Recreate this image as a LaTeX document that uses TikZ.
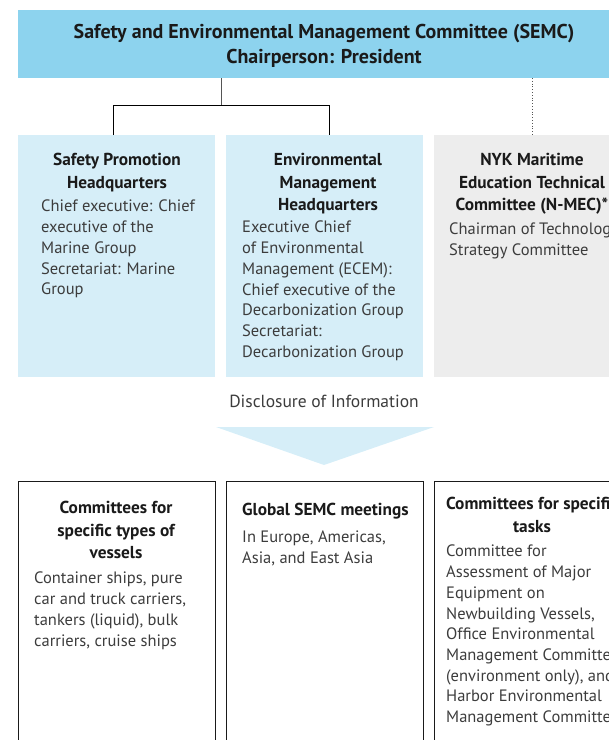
\documentclass[tikz,border=0pt]{standalone}
\usepackage{fontspec}
\setmainfont{PT Sans}
\definecolor{semcblue}{HTML}{8DD3EE}
\definecolor{paleblue}{HTML}{D6EEF8}
\definecolor{palegray}{HTML}{EDEDED}
\definecolor{headblack}{HTML}{1A1A1A}
\definecolor{bodygray}{HTML}{3C3C3C}
\definecolor{linegray}{HTML}{555555}

\begin{document}
\begin{tikzpicture}[x=1pt,y=-1pt,
    panel/.style={anchor=north west,inner sep=0pt,outer sep=0pt,minimum width=197pt},
    headtxt/.style={anchor=north,inner sep=0pt,align=center,text=headblack,
      font=\bfseries\fontsize{17.3}{22.5}\selectfont},
    bodytxt/.style={anchor=north west,inner sep=0pt,align=left,text=bodygray,
      font=\fontsize{16.5}{20.7}\selectfont},
    link/.style={line width=0.9pt}]
  \useasboundingbox (0,0) rectangle (609,740);
  \clip (0,0) rectangle (609,740);

  % committee at the top
  \node[panel,fill=semcblue,minimum width=612pt,minimum height=68pt] (semc) at (18,10) {};
  \node[headtxt,font=\bfseries\fontsize{20}{25.5}\selectfont] (semctitle) at (324,24)
    {Safety and Environmental Management Committee (SEMC)\\Chairperson: President};

  % headquarters
  \node[panel,fill=paleblue,minimum height=242pt] (safety) at (18,135) {};
  \node[panel,fill=paleblue,minimum height=242pt] (env) at (226,135) {};
  \node[panel,fill=palegray,minimum width=196pt,minimum height=242pt] (nmec) at (434,135) {};

  \node[headtxt] (safetyhead) at (117,153) {Safety Promotion\\Headquarters};
  \node[bodytxt] (safetybody) at (41,200)
    {Chief executive: Chief\\executive of the\\Marine Group\\Secretariat: Marine\\Group};
  \node[headtxt] (envhead) at (328,153) {Environmental\\Management\\Headquarters};
  \node[bodytxt] (envbody) at (242,221)
    {Executive Chief\\of Environmental\\Management (ECEM):\\Chief executive of the\\Decarbonization Group\\Secretariat:\\Decarbonization Group};
  \node[headtxt] (nmechead) at (532,153) {NYK Maritime\\Education Technical\\Committee (N-MEC)*};
  \node[bodytxt] (nmecbody) at (449,223) {Chairman of Technology\\Strategy Committee};

  % links
  \coordinate (fork) at (221,105);
  \coordinate (forkL) at (113,105);
  \coordinate (forkR) at (329,105);
  \draw[link,draw=linegray] (semc.south -| fork) -- (fork);
  \draw[link] (safety.north -| forkL) -- (forkL) -- (forkR) -- (env.north -| forkR);
  \draw[dotted,draw=linegray,line width=0.8pt] (semc.south -| nmec.north) -- (nmec.north);

  % disclosure
  \node[anchor=north,inner sep=0pt,text=bodygray,font=\fontsize{17.5}{20}\selectfont]
    (disclosure) at (324,395) {Disclosure of Information};
  \coordinate (arrowL) at (216,427);
  \coordinate (arrowR) at (434,427);
  \coordinate (arrowTip) at (324,465);
  \fill[paleblue] (arrowL) -- (arrowR) -- (arrowTip) -- cycle;

  % committees below
  \node[panel,draw=headblack,line width=0.8pt,minimum height=290pt] (vessels) at (18,481) {};
  \node[panel,draw=headblack,line width=0.8pt,minimum height=290pt] (global) at (226,481) {};
  \node[panel,draw=headblack,line width=0.8pt,minimum height=290pt] (tasks) at (434,481) {};

  \node[headtxt] (vesselshead) at (116,501) {Committees for\\specific types of\\vessels};
  \node[bodytxt] (vesselsbody) at (34,572)
    {Container ships, pure\\car and truck carriers,\\tankers (liquid), bulk\\carriers, cruise ships};
  \node[headtxt,anchor=north west] (globalhead) at (242,503) {Global SEMC meetings};
  \node[bodytxt] (globalbody) at (242,531) {In Europe, Americas,\\Asia, and East Asia};
  \node[headtxt] (taskshead) at (532,497) {Committees for specific\\tasks};
  \node[bodytxt] (tasksbody) at (446,545)
    {Committee for\\Assessment of Major\\Equipment on\\Newbuilding Vessels,\\Office Environmental\\Management Committee\\(environment only), and\\Harbor Environmental\\Management Committee};
\end{tikzpicture}
\end{document}
